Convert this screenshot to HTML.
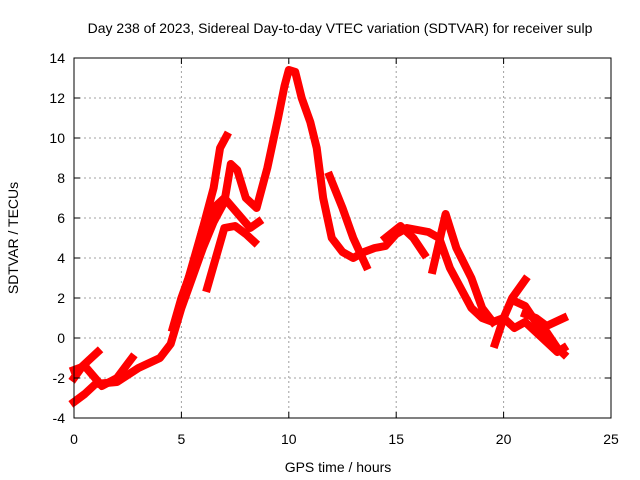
<!DOCTYPE html>
<html><head><meta charset="utf-8"><style>body{margin:0;background:#fff}svg{display:block;font-family:"Liberation Sans",sans-serif}</style></head>
<body>
<svg id="chart" width="640" height="480">
<text x="340" y="33" font-size="14" text-anchor="middle">Day 238 of 2023, Sidereal Day-to-day VTEC variation (SDTVAR) for receiver sulp</text>
<text x="338" y="472" font-size="14" text-anchor="middle">GPS time / hours</text>
<text transform="translate(18,238) rotate(-90)" font-size="14" text-anchor="middle">SDTVAR / TECUs</text>
<g id="grid"></g><g id="series"></g><g id="axes"></g>
</svg>
<script>
const xTicks=[0,5,10,15,20,25];
const yTicks=[-4,-2,0,2,4,6,8,10,12,14];
const mainH=[0,0.5,1,2,3,4,4.5,5,5.5,6,6.5,7,7.3,7.6,8,8.5,9,9.5,9.8,10,10.3,10.6,11,11.3,11.6,12,12.5,13,13.5,14,14.5,15,15.5,16,16.5,17,17.5,18,18.5,19,19.5,20,20.5,21,21.5,22,22.5,22.8];
const mainV=[-3.2,-2.8,-2.3,-2.2,-1.5,-1,-0.3,1.5,3,4.5,5.8,6.8,8.7,8.4,7,6.5,8.5,11,12.6,13.4,13.3,12,10.8,9.5,7,5,4.3,4,4.3,4.5,4.6,5.2,5.5,5.4,5.3,5,3.5,2.5,1.5,1,0.8,1,0.5,0.8,0.3,-0.2,-0.7,-0.5];
const bH=[4.6,5,5.5,6,6.5,6.8,7.1];
const bV=[0.5,2,3.5,5.5,7.5,9.5,10.1];
const cH=[5.2,5.6,6,6.5,7,7.4,7.8,8.2,8.6];
const cV=[2.5,4,5.5,6.5,7,6.5,6,5.5,5.8];
const dH=[6.2,6.6,7,7.5,8,8.4];
const dV=[2.5,4,5.5,5.6,5.2,4.8];
const eH=[0,0.4,0.8,1.1];
const eV=[-2,-1.4,-1,-0.7];
const fH=[0,0.5,1.3,2,2.7];
const fV=[-1.6,-1.4,-2.4,-2,-1];
const gH=[11.9,12.5,13,13.6];
const gV=[8.1,6.5,5,3.6];
const hH=[14.5,15.2,15.8,16.3];
const hV=[5,5.6,5,4.2];
const iH=[16.7,17,17.3,17.8,18.5,19,19.5];
const iV=[3.4,4.8,6.2,4.5,3,1.5,0.8];
const jH=[19.6,20,20.4,21];
const jV=[-0.3,1,2,2.9];
const kH=[20.6,21,21.5,22,22.5,22.8];
const kV=[1.8,1.6,0.8,0.3,-0.5,-0.8];
const lH=[21,21.5,22,22.8];
const lV=[1.2,1,0.6,1];
const series=[[mainH,mainV],[bH,bV],[cH,cV],[dH,dV],[eH,eV],[fH,fV],[gH,gV],[hH,hV],[iH,iV],[jH,jV],[kH,kV],[lH,lV]];
const X0=74,X1=611,Y0=418,Y1=58;
const sx=h=>X0+(h-0)/25*(X1-X0);
const sy=v=>Y0-(v+4)/18*(Y0-Y1);
const NS="http://www.w3.org/2000/svg";
const grid=document.getElementById('grid'),axes=document.getElementById('axes'),ser=document.getElementById('series');
function mk(tag,attrs,parent){const e=document.createElementNS(NS,tag);for(const k in attrs)e.setAttribute(k,attrs[k]);parent.appendChild(e);return e;}
xTicks.forEach(t=>{const x=sx(t);
 if(t>0&&t<25){const g=mk('line',{x1:x,x2:x,y1:Y0,y2:Y1,stroke:'#a0a0a0','stroke-dasharray':'2,3'},grid);
 
 }
 mk('line',{x1:x,x2:x,y1:Y0,y2:Y0-6,stroke:'#000'},axes);mk('line',{x1:x,x2:x,y1:Y1,y2:Y1+6,stroke:'#000'},axes);
 const l=mk('text',{x:x,y:Y0+26,'font-size':14,'text-anchor':'middle'},axes);l.textContent=t;
 
 });
yTicks.forEach(t=>{const y=sy(t);
 if(t>-4&&t<14){const g=mk('line',{x1:X0,x2:X1,y1:y,y2:y,stroke:'#a0a0a0','stroke-dasharray':'2,3'},grid);
 
 }
 mk('line',{x1:X0,x2:X0+6,y1:y,y2:y,stroke:'#000'},axes);mk('line',{x1:X1,x2:X1-6,y1:y,y2:y,stroke:'#000'},axes);
 const l=mk('text',{x:X0-9,y:y+5,'font-size':14,'text-anchor':'end'},axes);l.textContent=t;
 
 });
const fr=mk('rect',{x:X0,y:Y1,width:X1-X0,height:Y0-Y1,fill:'none',stroke:'#000'},axes);


series.forEach((s,i)=>{const pts=s[0].map((h,j)=>sx(h)+','+sy(s[1][j])).join(' ');
 const p=mk('polyline',{points:pts,fill:'none',stroke:'#ff0000','stroke-width':8,'stroke-linejoin':'round','stroke-linecap':'square'},ser);
 
 });
</script>
</body></html>
